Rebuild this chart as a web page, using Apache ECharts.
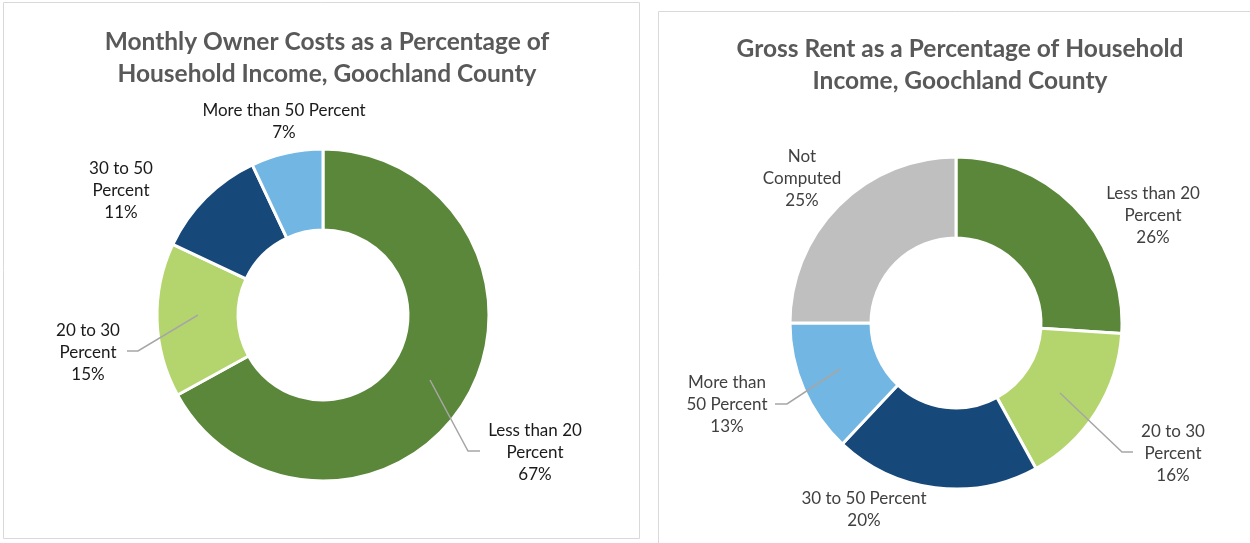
<!DOCTYPE html>
<html>
<head>
<meta charset="utf-8">
<script src="https://cdn.jsdelivr.net/npm/echarts@6/dist/echarts.min.js"></script>
<style>
html,body{margin:0;padding:0;background:#fff;}
#main{width:1250px;height:543px;}
</style>
</head>
<body>
<div id="main"></div>
<script>
// ---- data ----
const ownerTitle = 'Monthly Owner Costs as a Percentage of\nHousehold Income, Goochland County';
const ownerCategories = ['Less than 20\nPercent', '20 to 30\nPercent', '30 to 50\nPercent', 'More than 50 Percent'];
const ownerValues = [67, 15, 11, 7];

const rentTitle = 'Gross Rent as a Percentage of Household\nIncome, Goochland County';
const rentCategories = ['Less than 20\nPercent', '20 to 30\nPercent', '30 to 50 Percent', 'More than\n50 Percent', 'Not\nComputed'];
const rentValues = [26, 16, 20, 13, 25];

// ---- styles / layout ----
const ownerColors = ['#5B873B', '#B4D56D', '#17487A', '#72B6E3'];
const rentColors = ['#5B873B', '#B4D56D', '#17487A', '#72B6E3', '#BFBFBF'];
const FONT = 'Lato, "Open Sans", sans-serif';

// label centres and leader lines (layout only)
const ownerLabelPos = [
  {x: 535, y: 453, line: [[430, 380], [468, 451], [480, 451]]},
  {x: 88, y: 353, line: [[198, 315], [138, 351], [127, 351]]},
  {x: 121, y: 191},
  {x: 284, y: 122}
];
const rentLabelPos = [
  {x: 1153, y: 216},
  {x: 1173, y: 454, line: [[1060, 393], [1122, 452], [1133, 452]]},
  {x: 864, y: 510},
  {x: 727, y: 405, line: [[840, 369], [787, 404], [775, 404]]},
  {x: 802, y: 179}
];

function makeData(cats, vals, colors, pos, overlay) {
  return cats.map((c, i) => ({
    name: c,
    value: vals[i],
    itemStyle: {color: overlay ? 'rgba(0,0,0,0)' : colors[i]},
    labelLine: {show: overlay && !!pos[i].line}
  }));
}

function layoutFor(pos) {
  return function (p) {
    const q = pos[p.dataIndex];
    const r = {x: q.x, y: q.y, align: 'center', verticalAlign: 'middle'};
    if (q.line) r.labelLinePoints = q.line;
    return r;
  };
}

function pieSeries(center, cats, vals, colors, pos, textColor, overlay) {
  return {
    type: 'pie',
    center: center,
    radius: [85, 166],
    startAngle: 90,
    clockwise: true,
    avoidLabelOverlap: false,
    silent: true,
    z: overlay ? 5 : 2,
    itemStyle: overlay ? {borderWidth: 0} : {borderColor: '#ffffff', borderWidth: 3},
    label: {
      show: overlay,
      position: 'outside',
      formatter: '{b}\n{c}%',
      fontFamily: FONT,
      fontSize: 17,
      lineHeight: 22,
      color: textColor,
      align: 'center'
    },
    labelLine: {lineStyle: {color: '#A6A6A6', width: 1.5}},
    labelLayout: layoutFor(pos),
    data: makeData(cats, vals, colors, pos, overlay)
  };
}

const chart = echarts.init(document.getElementById('main'), null, {renderer: 'canvas'});
chart.setOption({
  animation: false,
  backgroundColor: '#ffffff',
  graphic: [
    {type: 'rect', shape: {x: 3.5, y: 2.5, width: 636, height: 536}, style: {fill: 'none', stroke: '#D9D9D9', lineWidth: 1}, silent: true},
    {type: 'rect', shape: {x: 658.5, y: 11.5, width: 600, height: 540}, style: {fill: 'none', stroke: '#D9D9D9', lineWidth: 1}, silent: true}
  ],
  title: [
    {
      text: ownerTitle, left: 322, top: 21, textAlign: 'center',
      textStyle: {fontFamily: FONT, fontSize: 24.5, fontWeight: 'bold', color: '#595959', lineHeight: 32}
    },
    {
      text: rentTitle, left: 955, top: 28, textAlign: 'center',
      textStyle: {fontFamily: FONT, fontSize: 24.5, fontWeight: 'bold', color: '#595959', lineHeight: 32}
    }
  ],
  series: [
    pieSeries([323, 315], ownerCategories, ownerValues, ownerColors, ownerLabelPos, '#1A1A1A', false),
    pieSeries([956, 323], rentCategories, rentValues, rentColors, rentLabelPos, '#404040', false),
    pieSeries([323, 315], ownerCategories, ownerValues, ownerColors, ownerLabelPos, '#1A1A1A', true),
    pieSeries([956, 323], rentCategories, rentValues, rentColors, rentLabelPos, '#404040', true)
  ]
});
</script>
</body>
</html>
